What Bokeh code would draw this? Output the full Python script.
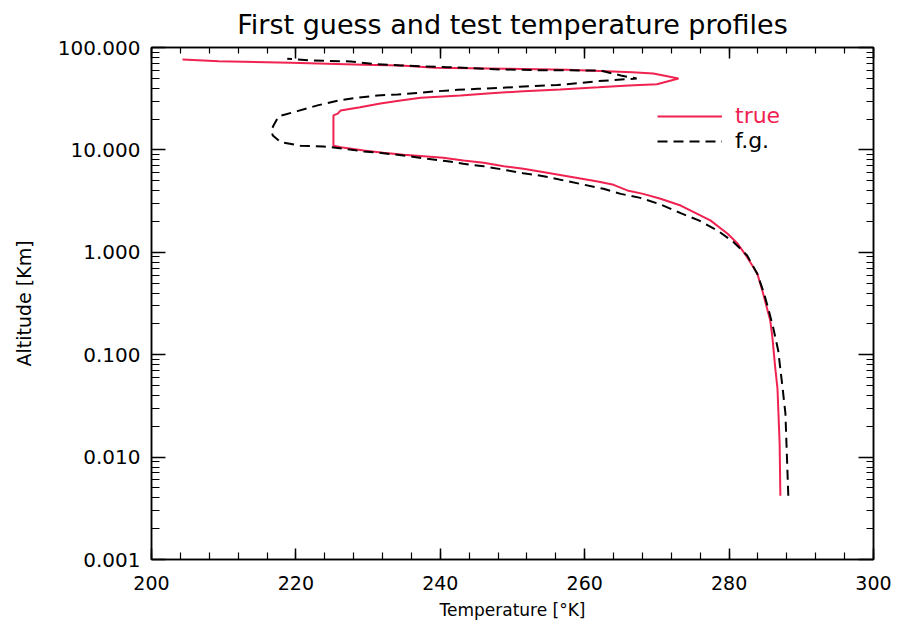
from bokeh.plotting import figure
from bokeh.models import (Range1d, LinearAxis, LogAxis, SingleIntervalTicker, LogTicker,
                          PrintfTickFormatter, CustomJSTickFormatter, Legend, LegendItem)
from bokeh.embed import file_html
from bokeh.resources import INLINE

# ---- data ----
true_temp = [287.1, 287.0, 286.7, 286.4, 286.0, 285.7, 284.6, 283.9, 282.5, 281.2,
             279.8, 277.4, 275.1, 273.3, 270.5, 268.1, 265.9, 264.0, 261.8, 258.4,
             254.8, 251.5, 248.8, 246.0, 243.2, 240.4, 237.7, 234.9, 232.1, 229.4,
             226.2, 225.2, 225.2, 225.8, 226.2, 228.9, 231.7, 234.5, 237.3, 242.8,
             247.0, 251.5, 256.6, 261.9, 266.1, 270.0, 273.0, 269.5, 266.6, 257.6,
             249.0, 239.3, 234.5, 229.4, 219.3, 209.3, 204.3]
true_alt = [0.0042, 0.0136, 0.0468, 0.0733, 0.147, 0.216, 0.424, 0.621, 0.895, 1.21,
            1.52, 2.05, 2.47, 2.86, 3.33, 3.72, 4.02, 4.56, 4.91, 5.41,
            5.97, 6.53, 6.93, 7.48, 7.88, 8.37, 8.67, 8.95, 9.37, 9.86,
            10.6, 11.0, 21.7, 22.6, 24.3, 26.1, 28.4, 30.3, 32.3, 34.0,
            35.8, 37.4, 38.9, 40.9, 42.6, 43.8, 49.8, 55.7, 57.4, 60.5,
            62.0, 63.4, 66.7, 67.8, 70.9, 73.5, 76.4]

fg_temp = [288.2, 287.8, 287.4, 286.8, 286.1, 285.5, 284.8, 283.9, 282.5, 280.6,
           278.4, 275.8, 273.3, 270.5, 267.7, 265.0, 262.6, 259.8, 257.1, 254.3,
           251.5, 248.8, 246.0, 243.2, 241.0, 238.2, 234.9, 232.1, 229.4, 226.6,
           223.8, 220.6, 217.9, 216.8, 216.6, 216.9, 217.6, 220.2, 223.0, 225.8,
           228.5, 231.3, 234.1, 236.3, 239.6, 242.4, 245.2, 248.3, 252.9, 256.2,
           259.0, 261.8, 267.2, 265.0, 262.2, 253.9, 248.3, 241.0, 234.5, 230.6,
           227.6, 222.3, 218.8]
fg_alt = [0.0042, 0.0267, 0.0479, 0.110, 0.185, 0.270, 0.405, 0.617, 0.931, 1.26,
          1.63, 2.05, 2.41, 2.93, 3.40, 3.72, 4.17, 4.59, 5.03, 5.54,
          5.92, 6.40, 6.93, 7.31, 7.76, 8.19, 8.81, 9.29, 9.64, 10.3,
          10.8, 11.0, 11.9, 13.8, 15.5, 17.3, 21.3, 23.9, 27.2, 30.3,
          32.3, 34.0, 34.8, 35.8, 37.4, 38.6, 39.5, 40.4, 42.0, 43.0,
          44.8, 46.9, 49.8, 53.3, 59.6, 60.0, 61.0, 64.3, 66.7, 69.3,
          73.0, 74.6, 77.6]

series_labels = ["true", "f.g."]
title_text = "First guess and test temperature profiles"
x_title = "Temperature [°K]"
y_title = "Altitude [Km]"

RED = "#f02250"
FONT = "DejaVu Sans"

p = figure(width=898, height=628, y_axis_type="log",
           x_range=Range1d(200, 300), y_range=Range1d(0.001, 100),
           output_backend="svg", toolbar_location=None,
           min_border_left=151, min_border_right=25, min_border_top=47, min_border_bottom=69,
           title=title_text)

p.background_fill_color = "white"
p.border_fill_color = "white"
p.outline_line_color = "black"
p.outline_line_width = 1.5
p.xgrid.visible = False
p.ygrid.visible = False

p.title.text_font = FONT
p.title.text_font_size = "27px"
p.title.text_font_style = "normal"
p.title.align = "center"
p.title.vertical_align = "top"
p.title.text_color = "black"
p.title.standoff = 12


def style_axis(ax, major_in, minor_in):
    ax.axis_line_color = "black"
    ax.axis_line_width = 1.5
    ax.major_tick_line_color = "black"
    ax.minor_tick_line_color = "black"
    ax.major_tick_line_width = 1.5
    ax.minor_tick_line_width = 1.2
    ax.major_tick_in = major_in
    ax.major_tick_out = 0
    ax.minor_tick_in = minor_in
    ax.minor_tick_out = 0
    ax.major_label_text_font = FONT
    ax.major_label_text_color = "black"
    ax.axis_label_text_font = FONT
    ax.axis_label_text_font_style = "normal"
    ax.axis_label_text_color = "black"


xax = p.xaxis[0]
xax.ticker = SingleIntervalTicker(interval=20, num_minor_ticks=5)
style_axis(xax, 11, 7)
xax.major_label_text_font_size = "19px"
xax.major_label_standoff = 16
xax.axis_label = x_title
xax.axis_label_text_font_size = "17px"
xax.axis_label_standoff = 7

yax = p.yaxis[0]
yax.ticker = LogTicker(num_minor_ticks=10)
yax.formatter = PrintfTickFormatter(format="%.3f")
style_axis(yax, 14, 8)
yax.major_label_text_font_size = "20px"
yax.major_label_standoff = 11
yax.axis_label = y_title
yax.axis_label_text_font_size = "19px"
yax.axis_label_standoff = 20

blank = "return ''"

top = LinearAxis(ticker=SingleIntervalTicker(interval=20, num_minor_ticks=5),
                 formatter=CustomJSTickFormatter(code=blank))
style_axis(top, 11, 6)
top.major_label_text_font_size = "2px"
top.major_label_standoff = 0
p.add_layout(top, "above")

right = LogAxis(ticker=LogTicker(num_minor_ticks=10),
                formatter=CustomJSTickFormatter(code=blank))
style_axis(right, 15, 7)
right.major_label_text_font_size = "2px"
right.major_label_standoff = 0
p.add_layout(right, "right")

r_true = p.line(true_temp, true_alt, line_color=RED, line_width=2)
r_fg = p.line(fg_temp, fg_alt, line_color="black", line_width=2, line_dash="10 6")


def make_legend(label, renderer, color, loc):
    lg = Legend(items=[LegendItem(label=label, renderers=[renderer])], location=loc,
                glyph_width=65, glyph_height=22, label_height=22, label_standoff=13,
                label_text_font=FONT, label_text_font_size="22px", label_text_color=color,
                padding=0, margin=0, border_line_color=None, background_fill_alpha=0)
    return lg


p.add_layout(make_legend(series_labels[0], r_true, RED, (506, 431)))
p.add_layout(make_legend(series_labels[1], r_fg, "black", (506, 406)))

open("out.html", "w").write(file_html(p, INLINE))
